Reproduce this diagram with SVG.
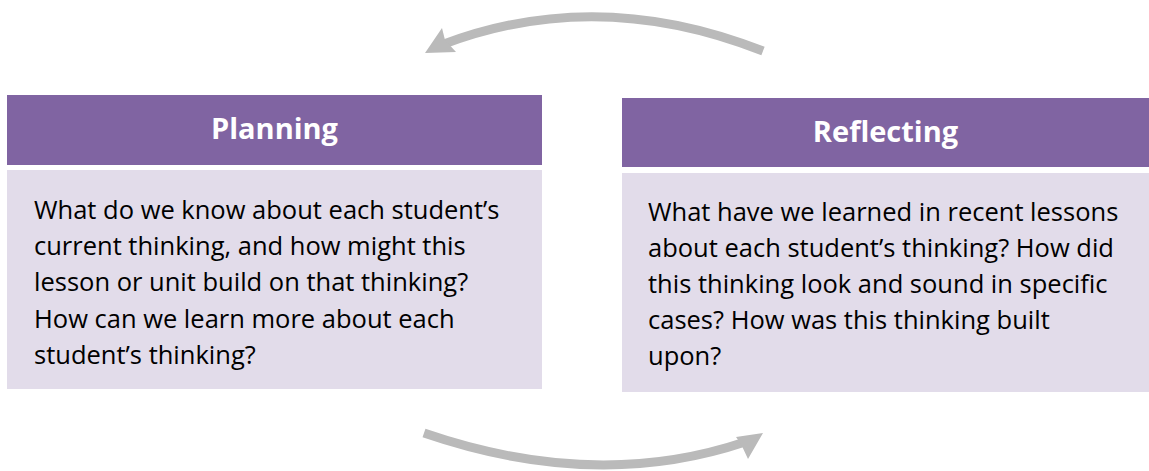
<svg xmlns="http://www.w3.org/2000/svg" width="1149" height="471" viewBox="0 0 1149 471">
<style>
.hdr{fill:#8064a2}
.body{fill:#e2dcea}
.title{font-family:"Open Sans","Liberation Sans",sans-serif;font-weight:bold;font-size:29px;fill:#ffffff;text-anchor:middle}
.txt{font-family:"Open Sans","Liberation Sans",sans-serif;font-size:25.5px;fill:#000000}
.shaft{fill:none;stroke:#bababa;stroke-width:9}
.head{fill:#bababa}
</style>
<rect width="1149" height="471" fill="#ffffff"/>
<g id="connectors">
<path class="shaft" d="M763,51 Q598,-14 444,44"/>
<polygon class="head" points="425,53 442,28 445,40 456,52"/>
<path class="shaft" d="M424,433 Q596,492 745,442"/>
<polygon class="head" points="763,433 736,437 741,444 748,459"/>
</g>
<g id="planning">
<rect class="hdr" x="7" y="95" width="535" height="70"/>
<rect class="body" x="7" y="170" width="535" height="219"/>
<text class="title" x="274.5" y="139">Planning</text>
<text class="txt"><tspan x="34" y="219">What do we know about each student’s</tspan><tspan x="34" y="255">current thinking, and how might this</tspan><tspan x="34" y="291">lesson or unit build on that thinking?</tspan><tspan x="34" y="328">How can we learn more about each</tspan><tspan x="34" y="364">student’s thinking?</tspan></text>
</g>
<g id="reflecting">
<rect class="hdr" x="622" y="98" width="527" height="69"/>
<rect class="body" x="622" y="173" width="527" height="219"/>
<text class="title" x="885.5" y="142">Reflecting</text>
<text class="txt"><tspan x="648" y="221">What have we learned in recent lessons</tspan><tspan x="648" y="257">about each student’s thinking? How did</tspan><tspan x="648" y="293">this thinking look and sound in specific</tspan><tspan x="648" y="329">cases? How was this thinking built</tspan><tspan x="648" y="365">upon?</tspan></text>
</g>
</svg>
